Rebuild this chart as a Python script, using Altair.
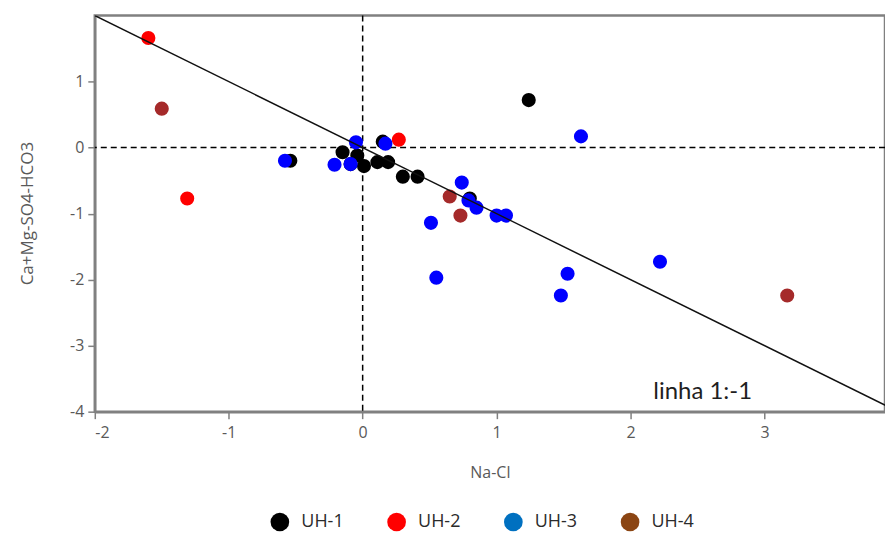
import altair as alt
import pandas as pd

# Groups and colours (points and legend swatches)
grupos = ["UH-1", "UH-2", "UH-3", "UH-4"]
cores_pontos = ["#000000", "#ff0000", "#0000ff", "#a52a2a"]
cores_legenda = ["#000000", "#ff0000", "#0070c0", "#8b4513"]

# Na-Cl (x) and Ca+Mg-SO4-HCO3 (y) per hydrogeological unit
uh1_x = [-0.54, -0.15, -0.04, -0.09, 0.01, 0.11, 0.19, 0.15, 0.30, 0.41, 0.80, 1.24]
uh1_y = [-0.20, -0.07, -0.12, -0.25, -0.28, -0.22, -0.22, 0.09, -0.44, -0.44, -0.77, 0.72]

uh2_x = [-1.60, -1.31, 0.27]
uh2_y = [1.66, -0.77, 0.12]

uh3_x = [-0.58, -0.21, -0.09, -0.05, 0.17, 0.74, 0.51, 0.79, 0.85, 1.00, 1.07, 1.63, 0.55, 1.53, 1.48, 2.22]
uh3_y = [-0.20, -0.26, -0.25, 0.08, 0.06, -0.53, -1.14, -0.80, -0.91, -1.03, -1.03, 0.17, -1.97, -1.91, -2.24, -1.73]

uh4_x = [-1.50, 0.65, 0.73, 3.17]
uh4_y = [0.59, -0.74, -1.03, -2.24]

# 1:-1 reference line end points
linha_x = [-2, 4]
linha_y = [2, -4]

series = [("UH-1", uh1_x, uh1_y), ("UH-2", uh2_x, uh2_y),
          ("UH-3", uh3_x, uh3_y), ("UH-4", uh4_x, uh4_y)]
rows = []
for nome, xs, ys in series:
    for a, b in zip(xs, ys):
        rows.append({"grupo": nome, "na_cl": a, "ca_mg": b})
df = pd.DataFrame(rows)

FONT = "Open Sans"
x_scale = alt.Scale(domain=[-2, 3.9], nice=False, zero=False)
y_scale = alt.Scale(domain=[-4, 2], nice=False, zero=False)

# plain hyphen for negative tick labels
label_expr = "'' + datum.value"

x_axis = alt.Axis(title="Na-Cl", values=[-2, -1, 0, 1, 2, 3], labelExpr=label_expr, grid=False,
                  titleY=61, titleBaseline="middle", labelPadding=6)
y_axis = alt.Axis(title="Ca+Mg-SO4-HCO3", values=[-4, -3, -2, -1, 0, 1], labelExpr=label_expr,
                  grid=False, titleX=-67, titleY=198, titleBaseline="middle", titleAngle=-90,
                  titleFontSize=17, labelPadding=4)

X = alt.X("na_cl:Q", scale=x_scale, axis=x_axis)
Y = alt.Y("ca_mg:Q", scale=y_scale, axis=y_axis)

# dashed zero lines
zero_v = alt.Chart(pd.DataFrame({"v": [0]})).mark_rule(
    color="black", strokeWidth=1.5, strokeDash=[6, 4]).encode(x=alt.X("v:Q", scale=x_scale))
zero_h = alt.Chart(pd.DataFrame({"v": [0]})).mark_rule(
    color="black", strokeWidth=1.5, strokeDash=[6, 4]).encode(y=alt.Y("v:Q", scale=y_scale))

pontos = alt.Chart(df).mark_circle(size=200, opacity=1).encode(
    x=X, y=Y,
    color=alt.Color("grupo:N", scale=alt.Scale(domain=grupos, range=cores_pontos), legend=None),
)

# invisible layer that carries the legend swatches
legenda = alt.Chart(df).mark_circle(size=200, opacity=0).encode(
    x=X, y=Y,
    color=alt.Color("grupo:N", title=None,
                    scale=alt.Scale(domain=grupos, range=cores_legenda),
                    legend=alt.Legend(orient="none", direction="horizontal", columns=4,
                                      legendX=176, legendY=498, padding=0,
                                      symbolType="circle", symbolSize=350,
                                      symbolOpacity=1, symbolStrokeWidth=0,
                                      labelFont=FONT, labelFontSize=18,
                                      labelColor="#2b2b2b", labelOffset=12,
                                      columnPadding=43)),
)

linha = alt.Chart(pd.DataFrame({"x": linha_x, "y": linha_y})).mark_line(
    color="#111111", strokeWidth=1.5, clip=True).encode(
    x=alt.X("x:Q", scale=x_scale), y=alt.Y("y:Q", scale=y_scale))

rotulo = alt.Chart(pd.DataFrame({"x": [2.17], "y": [-3.81], "t": ["linha 1:-1"]})).mark_text(
    align="left", baseline="alphabetic", font="Lato", fontSize=24, color="#1f1f1f").encode(
    x=alt.X("x:Q", scale=x_scale), y=alt.Y("y:Q", scale=y_scale), text="t:N")

chart = alt.layer(zero_v, zero_h, pontos, legenda, linha, rotulo).resolve_scale(
    color="independent"
).properties(
    width=792, height=397,
    autosize=alt.AutoSizeParams(type="none"),
    padding={"left": 95, "top": 15, "right": 0, "bottom": 121},
    background="white",
).configure_view(
    stroke="#808080", strokeWidth=2.5
).configure_axis(
    domainColor="#808080", domainWidth=2.5,
    tickColor="#808080", tickWidth=1.5, tickSize=7,
    labelFont=FONT, labelFontSize=16, labelColor="#595959",
    titleFont=FONT, titleFontSize=16, titleColor="#595959", titleFontWeight="normal",
)

chart.save("out.html", embed_options={"renderer": "svg", "actions": False})
